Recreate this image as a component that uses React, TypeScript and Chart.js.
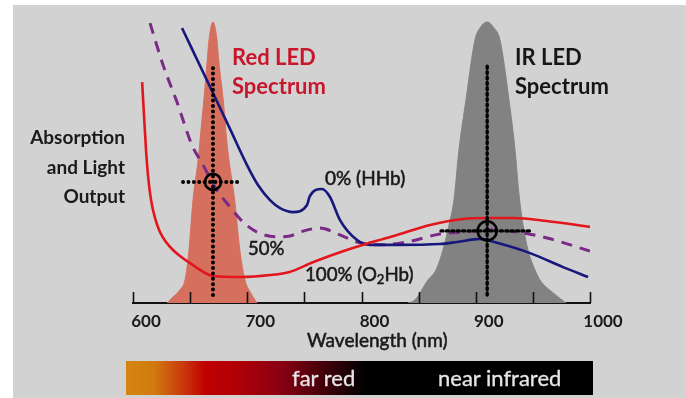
import { useEffect, useRef } from "react";
import { Chart, registerables } from "chart.js";

Chart.register(...registerables);

// Wavelength axis (nm)
const axisMin = 600;
const axisMax = 1000;
const tickStep = 50;
const labelledTicks = [600, 700, 800, 900, 1000];

// Red LED emission spectrum (relative output)
const redLedNm = [630, 635, 641, 645.5, 649, 652.5, 657, 659.5, 662, 665, 666.5, 670, 673.5, 675, 679, 682, 684, 689, 693.5, 698, 702.5, 708.5];
const redLedOut = [0, 2.1, 4.6, 8.1, 18.6, 36.1, 50.2, 60.7, 71.2, 85.3, 92.3, 98.6, 92.3, 85.3, 71.2, 57.2, 50.2, 36.1, 18.6, 8.1, 3.9, 0];

// IR LED emission spectrum (relative output)
const irLedNm = [840.7, 846.8, 858.2, 865.2, 871.3, 876.6, 880.9, 885.3, 891.4, 899.3, 903.7, 910, 916, 921.2, 929.1, 934.4, 937.9, 941.4, 945.7, 950.1, 956.2, 966.7, 979];
const irLedOut = [0, 1.1, 8.1, 11.6, 18.6, 27.4, 36.1, 53.7, 71.2, 92.3, 96.5, 98.6, 96.5, 92.3, 71.2, 53.7, 37.9, 27.4, 18.6, 13.3, 8.1, 3.9, 0];

// 100% (O2Hb) absorption
const o2hbNm = [608, 609.6, 611.4, 613.1, 615.8, 619.3, 623.6, 628.9, 635, 641.1, 650, 670, 694, 720, 737, 758, 787, 807, 831, 860, 889, 910, 933, 962, 1000];
const o2hbAbs = [77.5, 66, 53.7, 44.9, 36.1, 29.8, 24.9, 21.4, 18.6, 16.5, 14, 9.5, 9.1, 9.8, 10.9, 14.4, 18.6, 21.1, 23.9, 27.4, 29.5, 29.8, 29.8, 28.8, 26.7];

// 0% (HHb) absorption
const hhbNm = [642.9, 670, 684.9, 699.8, 709.4, 719.9, 728.7, 740, 752.3, 754.7, 765.4, 772.4, 781.2, 796.1, 807.4, 831.1, 868.7, 883.6, 903.7, 918.6, 947.5, 976.4, 998.3];
const hhbAbs = [96.5, 73.7, 61.1, 48.4, 41.4, 36.1, 33.3, 31.9, 34.4, 37.4, 40, 37.2, 29.1, 22.1, 20.4, 20.4, 20.7, 21.4, 22.5, 21.1, 17.5, 12.6, 9.1];

// 50% saturation absorption
const halfNm = [614.9, 626.3, 638.5, 651.6, 660.4, 673.5, 684.9, 696.3, 708.5, 726, 737.4, 746.2, 763.7, 781.2, 796.1, 816.2, 839.8, 868.7, 888.8, 912.5, 936.1, 962.4, 1000];
const halfAbs = [98.2, 83.5, 70.5, 55.4, 49.1, 39.6, 33.7, 28.4, 24.9, 23.2, 23.5, 24.9, 26.3, 23.9, 21.4, 20.4, 21.4, 24.2, 24.9, 25.6, 24.9, 22.8, 18.2];

// Operating points (crosshairs)
const redPointNm = 670;
const redPointAbs = 42.5;
const redCrossNm = [643.8, 693.7];
const irPointNm = 910;
const irPointAbs = 25.3;
const irCrossNm = [869.6, 947.5];
const crossVertical = [2.8, 83.5];

const pts = (xs: number[], ys: number[]) => xs.map((x, i) => ({ x, y: ys[i] }));

const upTicks = {
  id: "upTicks",
  afterDatasetsDraw(chart: any) {
    const xs = chart.scales.x;
    const ctx = chart.ctx;
    const bottom = chart.chartArea.bottom;
    ctx.save();
    ctx.strokeStyle = "#111";
    ctx.lineWidth = 1.6;
    for (let v = axisMin; v <= axisMax; v += tickStep) {
      const px = Math.round(xs.getPixelForValue(v)) + 0.5;
      ctx.beginPath();
      ctx.moveTo(px, bottom);
      ctx.lineTo(px, bottom - 11);
      ctx.stroke();
    }
    ctx.restore();
  },
};

export default function App() {
  const ref = useRef<HTMLCanvasElement>(null);

  useEffect(() => {
    if (!ref.current) return;
    const lineBase = { pointRadius: 0, cubicInterpolationMode: "monotone" as const, fill: false };
    const crossBase = { pointRadius: 0, fill: false, tension: 0, borderColor: "#000", borderCapStyle: "round", order: 2 };
    const chart = new Chart(ref.current, {
      type: "line",
      data: {
        datasets: [
          {
            ...lineBase,
            data: pts(redLedNm, redLedOut),
            fill: "origin",
            backgroundColor: "#d6705e",
            borderColor: "#d6705e",
            borderWidth: 1,
            order: 10,
          },
          {
            ...lineBase,
            data: pts(irLedNm, irLedOut),
            fill: "origin",
            backgroundColor: "#828282",
            borderColor: "#828282",
            borderWidth: 1,
            order: 10,
          },
          { ...lineBase, data: pts(o2hbNm, o2hbAbs), borderColor: "#e3151d", borderWidth: 2.6, order: 5 },
          { ...lineBase, data: pts(hhbNm, hhbAbs), borderColor: "#17177c", borderWidth: 2.6, order: 5 },
          {
            ...lineBase,
            data: pts(halfNm, halfAbs),
            borderColor: "#7b2a87",
            borderWidth: 3,
            borderDash: [11, 8],
            order: 5,
          },
          { ...crossBase, data: pts([redPointNm, redPointNm], crossVertical), borderWidth: 4, borderDash: [0, 5.4] },
          { ...crossBase, data: pts(redCrossNm, [redPointAbs, redPointAbs]), borderWidth: 4, borderDash: [0, 5.4] },
          { ...crossBase, data: pts([irPointNm, irPointNm], crossVertical), borderWidth: 3.4, borderDash: [2, 3.4] },
          { ...crossBase, data: pts(irCrossNm, [irPointAbs, irPointAbs]), borderWidth: 3.4, borderDash: [2, 3.4] },
          {
            data: [{ x: redPointNm, y: redPointAbs }],
            showLine: false,
            pointRadius: 8,
            pointBorderWidth: 2.6,
            pointBorderColor: "#000",
            pointBackgroundColor: "rgba(0,0,0,0)",
            order: 1,
          },
          {
            data: [{ x: irPointNm, y: irPointAbs }],
            showLine: false,
            pointRadius: 9.5,
            pointBorderWidth: 2.6,
            pointBorderColor: "#000",
            pointBackgroundColor: "rgba(0,0,0,0)",
            order: 1,
          },
        ] as any,
      },
      options: {
        responsive: false,
        devicePixelRatio: 1,
        animation: false,
        events: [],
        layout: { padding: { left: 133, right: 96, top: 18, bottom: 58.6 } },
        plugins: { legend: { display: false }, tooltip: { enabled: false } },
        scales: {
          x: {
            type: "linear",
            min: axisMin,
            max: axisMax,
            grid: { display: false, drawTicks: false },
            border: { display: true, color: "#111", width: 2 },
            ticks: {
              stepSize: tickStep,
              autoSkip: false,
              maxRotation: 0,
              padding: 8,
              labelOffset: 13,
              color: "#1a1a1a",
              font: { family: "Lato", size: 17, weight: "bold" },
              callback: (v: any) => (labelledTicks.includes(Number(v)) ? String(v) : ""),
            },
          },
          y: { display: false, min: 0, max: 100 },
        },
      },
      plugins: [upTicks],
    });
    return () => chart.destroy();
  }, []);

  const abs = (s: any) => ({ position: "absolute" as const, whiteSpace: "nowrap" as const, ...s });
  const medium = { WebkitTextStroke: "0.55px #1a1a1a" };

  return (
    <div style={{ position: "fixed", left: 0, top: 0, width: 686, height: 398, background: "#fff", fontFamily: "Lato, sans-serif", overflow: "hidden" }}>
      <div style={abs({ left: 13, top: 5, width: 673, height: 393, background: "#d2d2d2" })} />
      <div
        style={abs({
          left: 126,
          top: 361,
          width: 467,
          height: 34,
          background:
            "linear-gradient(to right, #d4850f 0%, #d07a10 6%, #c8300a 13%, #c00000 17%, #b00008 24%, #8a0012 33%, #55000c 40%, #200004 47%, #000 51%, #000 100%)",
        })}
      />
      <canvas ref={ref} width={686} height={398} style={abs({ left: 0, top: 0, width: 686, height: 398 })} />

      <div style={abs({ left: 0, width: 125, top: 122, fontSize: 19, lineHeight: "29.5px", textAlign: "right", color: "#1a1a1a", fontWeight: 700 })}>
        Absorption
        <br />
        and Light
        <br />
        Output
      </div>

      <div style={abs({ left: 232, top: 42, fontSize: 22, lineHeight: "29px", color: "#c8162d", fontWeight: 700 })}>
        Red LED
        <br />
        Spectrum
      </div>
      <div style={abs({ left: 515, top: 42, fontSize: 22, lineHeight: "29px", color: "#161616", fontWeight: 700 })}>
        IR LED
        <br />
        Spectrum
      </div>

      <div style={abs({ left: 325, top: 167.2, fontSize: 19, lineHeight: 1.2, color: "#1a1a1a", ...medium })}>0% (HHb)</div>
      <div style={abs({ left: 248, top: 236.8, fontSize: 18.5, lineHeight: 1.2, color: "#1a1a1a", ...medium })}>50%</div>
      <div style={abs({ left: 305, top: 262.5, fontSize: 18.7, lineHeight: 1.2, color: "#1a1a1a", ...medium })}>
        100% (O<sub style={{ fontSize: "0.7em", verticalAlign: "-0.25em", lineHeight: 1 }}>2</sub>Hb)
      </div>

      <div style={abs({ left: 307, top: 329.2, fontSize: 19, lineHeight: 1.2, color: "#1a1a1a", ...medium })}>Wavelength (nm)</div>

      <div style={abs({ left: 292, top: 365.3, fontSize: 22, lineHeight: 1.2, color: "#e6e6e6", WebkitTextStroke: "0.3px #e6e6e6" })}>far red</div>
      <div style={abs({ left: 438, top: 365.3, fontSize: 22, lineHeight: 1.2, color: "#e6e6e6", WebkitTextStroke: "0.3px #e6e6e6" })}>near infrared</div>
    </div>
  );
}
